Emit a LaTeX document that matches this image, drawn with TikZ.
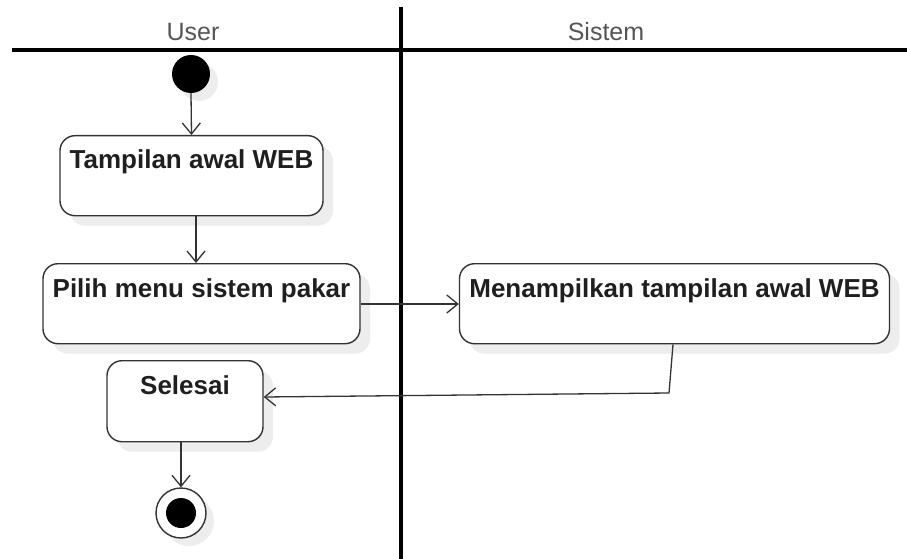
\documentclass[tikz,border=0pt]{standalone}
\usepackage{fontspec}
\setmainfont{Liberation Sans}
\usetikzlibrary{arrows.meta,shadows}
\definecolor{lanetext}{HTML}{555555}
\definecolor{boxline}{HTML}{333333}
\begin{document}
\begin{tikzpicture}[x=1pt,y=-1pt,
  lane/.style={line width=4pt,black},
  lanelabel/.style={text=lanetext,font=\fontsize{25}{29}\selectfont,anchor=base,inner sep=0},
  act/.style={draw=boxline,line width=1.4pt,rounded corners=15pt,fill=white,inner sep=0,anchor=north,
    font=\bfseries\fontsize{26}{30}\selectfont,text=black!88,
    drop shadow={shadow xshift=10pt,shadow yshift=-10pt,fill=black!7,opacity=1}},
  flow/.style={draw=boxline,line width=1.3pt,-{Straight Barb[length=11pt,width=18pt,line width=1.3pt]}},
  shade/.style={drop shadow={shadow xshift=8pt,shadow yshift=-8pt,fill=black!7,opacity=1}}
]
\useasboundingbox (0,0) rectangle (907,559);
% swimlanes
\draw[lane] (12,50) coordinate (hl) -- (907,50) coordinate (hr);
\draw[lane] (401,7) coordinate (vt) -- (401,559) coordinate (vb);
\node[lanelabel] (user) at (193,41) {User};
\node[lanelabel] (sistem) at (606,41) {Sistem};
% start
\node[circle,fill=black,minimum size=38pt,inner sep=0,shade] (start) at (191,74) {};
% activities
\node[act,minimum width=263pt,text height=33pt,text depth=47pt] (a1) at (191.5,135) {Tampilan awal WEB};
\node[act,minimum width=317pt,text height=34pt,text depth=46pt] (a2) at (201.5,263) {Pilih menu sistem pakar};
\node[act,minimum width=430pt,text height=34pt,text depth=46pt] (a3) at (674.5,263) {Menampilkan tampilan awal WEB};
\node[act,minimum width=156pt,text height=34pt,text depth=47pt] (a4) at (185,360) {Selesai};
% end
\node[circle,draw=boxline,line width=1.4pt,fill=white,minimum size=50pt,inner sep=0,shade] (end) at (181,513) {};
\node[circle,fill=black,minimum size=30pt,inner sep=0] (endin) at (end) {};
% flows
\draw[flow] (start.south) -- (a1.north);
\draw[flow] (a1.south -| 196,0) -- (a2.north -| 196,0);
\draw[flow] (a2.east |- 0,304) -- (a3.west |- 0,304);
\coordinate (bend) at (669,393);
\draw[flow] (a3.south -| 673,0) -- (bend) -- (a4.east |- 0,397);
\draw[flow] (a4.south -| 181,0) -- (end.north);
\end{tikzpicture}
\end{document}
